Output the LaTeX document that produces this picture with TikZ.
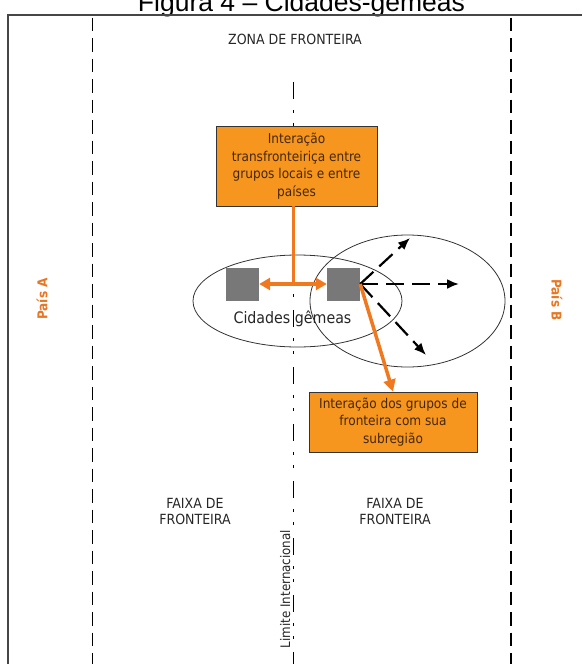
\documentclass[tikz,border=0pt]{standalone}
\usepackage{fontspec}
\setmainfont{Liberation Sans}
\newfontfamily\tah{DejaVu Sans Condensed}
\usetikzlibrary{arrows.meta,shapes.geometric}
\definecolor{boxorange}{RGB}{247,150,30}
\definecolor{lineorange}{RGB}{240,120,30}
\definecolor{textorange}{RGB}{232,118,35}
\definecolor{boxtext}{RGB}{70,40,10}
\definecolor{cityfill}{RGB}{120,120,120}
\definecolor{framegray}{RGB}{70,70,70}
\begin{document}
\begin{tikzpicture}[x=1pt,y=-1pt,
  lbl/.style={font=\tah\fontsize{14}{16}\selectfont, text=black!85, align=center, inner sep=0pt},
  infobox/.style={draw=black!80, line width=0.8pt, fill=boxorange, text=boxtext, align=center,
    font=\tah\fontsize{13.5}{17.5}\selectfont, inner sep=0pt},
  city/.style={fill=cityfill, minimum size=33pt, inner sep=0pt},
  zone/.style={draw=black!80, line width=0.8pt, ellipse, inner sep=0pt},
  strip/.style={line width=1.4pt, dash pattern=on 13.5pt off 7pt},
  border/.style={line width=1.6pt, dash pattern=on 17pt off 11pt on 2.5pt off 10.5pt on 2.5pt off 13.5pt},
  flow/.style={draw=lineorange, line width=3.5pt},
  spread/.style={line width=2.2pt, dash pattern=on 18pt off 8pt, -{Latex[length=12pt,width=10pt]}},
  country/.style={font=\tah\bfseries\fontsize{13.5}{15}\selectfont, text=textorange, inner sep=0pt}
]
\useasboundingbox (0,0) rectangle (582,664);

% caption and frame
\node[anchor=base, font=\fontsize{26.5}{30}\selectfont, inner sep=0pt] (title) at (301.5,11.5) {Figura 4 – Cidades-gêmeas};
\draw[framegray, line width=1.5pt] (8,664) -- (8,15) -- (582,15);

% border strips and international limit
\draw[strip] (92.5,17.5) -- (92.5,664);
\draw[strip] (511,17.5) -- (511,664);
\draw[border] (293.5,82) -- (293.5,664);

% labels
\node[lbl, anchor=base] (zone) at (295,44) {ZONA DE FRONTEIRA};
\node[lbl] (stripA) at (195,511) {FAIXA DE\\FRONTEIRA};
\node[lbl] (stripB) at (395,511) {FAIXA DE\\FRONTEIRA};
\node[lbl, font=\tah\fontsize{13.2}{15}\selectfont, rotate=90, anchor=base] (limit) at (290,589) {Limite Internacional};
\node[country, rotate=90] (paisA) at (42,299) {País A};
\node[country, rotate=-90] (paisB) at (557,300) {País B};

% areas of influence
\node[zone, minimum width=209pt, minimum height=92pt] (twinarea) at (297.5,301) {};
\node[zone, minimum width=195pt, minimum height=132pt] (region) at (407.5,301) {};

% twin cities
\node[city] (cityA) at (242.5,284) {};
\node[city] (cityB) at (343.5,284) {};
\node[lbl, font=\tah\fontsize{15.8}{18}\selectfont, anchor=base] (twins) at (292.5,323) {Cidades gêmeas};

% boxes
\node[infobox, minimum width=161pt, minimum height=80pt] (cross) at (296.5,166)
  {Interação\\transfronteiriça entre\\grupos locais e entre\\países};
\node[infobox, minimum width=168pt, minimum height=60pt] (local) at (393,422)
  {Interação dos grupos de\\fronteira com sua\\subregião};

% spreading into the subregion
\coordinate (upR) at (410,238);
\coordinate (farR) at (459,284);
\coordinate (downR) at (426,355);
\draw[spread] (cityB.east) -- (upR);
\draw[spread] (cityB.east) -- (farR);
\draw[spread] (cityB.east) -- (downR);

% interactions
\coordinate (hub) at (293.5,284);
\draw[flow] (cross.south -| hub) -- (hub);
\draw[flow, {Triangle[length=11pt,width=12pt]}-{Triangle[length=11pt,width=12pt]}] (cityA.east) -- (cityB.west);
\draw[flow, -{Triangle[length=12pt,width=12pt]}] (cityB.east) -- (local.north);
\end{tikzpicture}
\end{document}
